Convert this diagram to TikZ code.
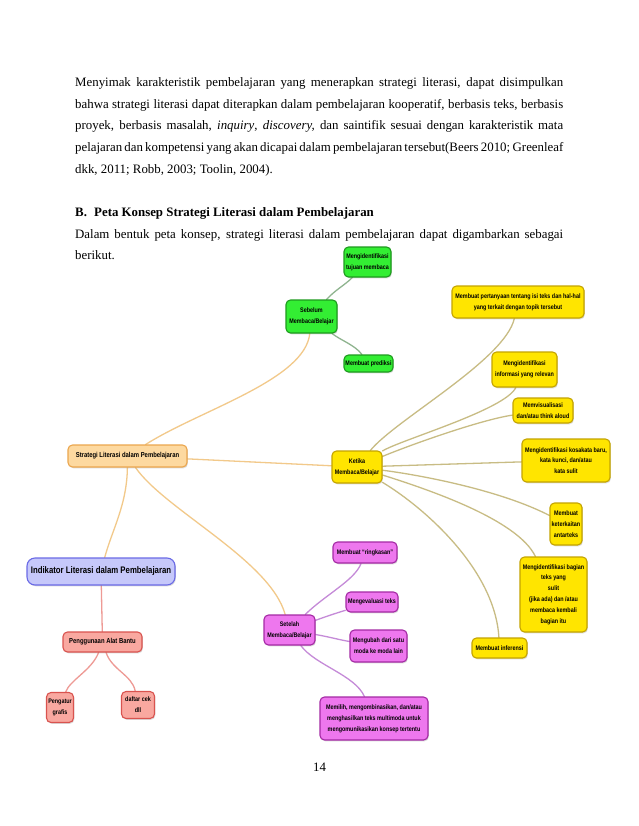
\documentclass[tikz,border=0pt]{standalone}
\usepackage{fontspec}
\setmainfont{Liberation Serif}
\newfontfamily\nodefont[FakeStretch=0.82]{Liberation Sans}
\usetikzlibrary{shadows,backgrounds}
\definecolor{gfill}{HTML}{33EE33}
\definecolor{gdraw}{HTML}{1E9A1E}
\definecolor{yfill}{HTML}{FFE500}
\definecolor{ydraw}{HTML}{C4A400}
\definecolor{ofill}{HTML}{FDD9A0}
\definecolor{odraw}{HTML}{EBA64E}
\definecolor{bfill}{HTML}{C6C8FA}
\definecolor{bdraw}{HTML}{6A6AE6}
\definecolor{rfill}{HTML}{F9A8A0}
\definecolor{rdraw}{HTML}{D9534F}
\definecolor{mfill}{HTML}{EE77EE}
\definecolor{mdraw}{HTML}{A42AA4}
\definecolor{oline}{HTML}{F2C98A}
\definecolor{gline}{HTML}{8FB48F}
\definecolor{yline}{HTML}{C8BC84}
\definecolor{rline}{HTML}{EE9A95}
\definecolor{mline}{HTML}{C58BD8}
\begin{document}
\begin{tikzpicture}[x=1pt,y=-1pt,
  body/.style={anchor=base west, inner sep=0pt, font=\fontsize{12.86}{21.7}\selectfont},
  mm/.style={rounded corners=4.5pt, line width=1.1pt, align=center, inner sep=0.5pt,
    font=\nodefont\bfseries\fontsize{6.6}{10.8}\selectfont,
    drop shadow={shadow xshift=0.9pt, shadow yshift=-1.3pt, opacity=0.28}},
  gbox/.style={mm, draw=gdraw, fill=gfill},
  ybox/.style={mm, draw=ydraw, fill=yfill},
  obox/.style={mm, draw=odraw, fill=ofill},
  bbox/.style={mm, draw=bdraw, fill=bfill},
  rbox/.style={mm, draw=rdraw, fill=rfill},
  mbox/.style={mm, draw=mdraw, fill=mfill},
  con/.style={line width=1.3pt, line cap=round},
]
% text
\node[body] (t1) at (75,86.5) {\makebox[488pt][s]{Menyimak karakteristik pembelajaran yang menerapkan strategi literasi, dapat disimpulkan}};
\node[body] (t2) at (75,108.2) {\makebox[488pt][s]{bahwa strategi literasi dapat diterapkan dalam pembelajaran kooperatif, berbasis teks, berbasis}};
\node[body] (t3) at (75,129.9) {\makebox[488pt][s]{proyek, berbasis masalah, \textit{inquiry}, \textit{discovery,} dan saintifik sesuai dengan karakteristik mata}};
\node[body] (t4) at (75,151.6) {\makebox[488pt][s]{pelajaran dan kompetensi yang akan dicapai dalam pembelajaran tersebut(Beers 2010; Greenleaf}};
\node[body] (t5) at (75,173.3) {dkk, 2011; Robb, 2003; Toolin, 2004).};
\node[body] (t6) at (75,216.2) {\textbf{\makebox[19pt][l]{B.}Peta Konsep Strategi Literasi dalam Pembelajaran}};
\node[body] (t7) at (75,238) {\makebox[488pt][s]{Dalam bentuk peta konsep, strategi literasi dalam pembelajaran dapat digambarkan sebagai}};
\node[body] (t8) at (75,259.7) {berikut.};
\node[anchor=base, inner sep=0pt, font=\fontsize{12.86}{15}\selectfont] (pg) at (319.5,771) {14};

% nodes
\node[gbox, minimum width=47pt, minimum height=30pt] (tujuan) at (367.5,262) {Mengidentifikasi\\tujuan membaca};
\node[gbox, minimum width=51pt, minimum height=33pt] (sebelum) at (311.5,316.5) {Sebelum\\Membaca/Belajar};
\node[gbox, minimum width=49pt, minimum height=17pt] (prediksi) at (368.5,363.5) {Membuat prediksi};

\node[ybox, minimum width=132pt, minimum height=32pt] (tanya) at (518,302) {Membuat pertanyaan tentang isi teks dan hal-hal\\yang terkait dengan topik tersebut};
\node[ybox, minimum width=65pt, minimum height=35pt] (info) at (524.5,369.5) {Mengidentifikasi\\informasi yang relevan};
\node[ybox, minimum width=60pt, minimum height=25pt] (visual) at (543,410.5) {Memvisualisasi\\dan/atau think aloud};
\node[ybox, minimum width=88pt, minimum height=43pt] (kosa) at (566,460.5) {Mengidentifikasi kosakata baru,\\kata kunci, dan/atau\\kata sulit};
\node[ybox, minimum width=32pt, minimum height=42pt] (kait) at (566,524) {Membuat\\keterkaitan\\antarteks};
\node[ybox, minimum width=67pt, minimum height=75pt] (bagian) at (553.5,594.5) {Mengidentifikasi bagian\\teks yang\\sulit\\(jika ada) dan /atau\\membaca kembali\\bagian itu};
\node[ybox, minimum width=55pt, minimum height=20pt] (infer) at (499.5,648) {Membuat inferensi};
\node[ybox, minimum width=50pt, minimum height=32pt] (ketika) at (357,467) {Ketika\\Membaca/Belajar};

\node[obox, minimum width=119pt, minimum height=22pt, font=\nodefont\bfseries\fontsize{7.2}{9}\selectfont] (strat) at (127.5,456) {Strategi Literasi dalam Pembelajaran};
\node[bbox, rounded corners=8pt, minimum width=148pt, minimum height=27pt, font=\nodefont\bfseries\fontsize{9.5}{11}\selectfont] (indik) at (101,571.5) {Indikator Literasi dalam Pembelajaran};
\node[rbox, minimum width=79pt, minimum height=20pt, font=\nodefont\bfseries\fontsize{7.2}{9}\selectfont] (peng) at (102.5,642) {Penggunaan Alat Bantu};
\node[rbox, minimum width=27pt, minimum height=30pt] (pengatur) at (60,707.5) {Pengatur\\grafis};
\node[rbox, minimum width=33pt, minimum height=27pt] (daftar) at (138,705) {daftar cek\\dll};

\node[mbox, minimum width=51pt, minimum height=30pt] (setelah) at (289.5,630) {Setelah\\Membaca/Belajar};
\node[mbox, minimum width=64pt, minimum height=21pt] (ringkas) at (365,552.5) {Membuat “ringkasan”};
\node[mbox, minimum width=52pt, minimum height=20pt] (evaluasi) at (372,602) {Mengevaluasi teks};
\node[mbox, minimum width=57pt, minimum height=32pt] (ubah) at (378.5,646) {Mengubah dari satu\\moda ke moda lain};
\node[mbox, minimum width=108pt, minimum height=43pt] (pilih) at (374,718.5) {Memilih, mengombinasikan, dan/atau\\menghasilkan teks multimoda untuk\\mengomunikasikan konsep tertentu};

\begin{scope}[on background layer]
\fill[white] (0,0) rectangle (638,826);
% orange
\draw[con, oline] (strat) .. controls (200,410) and (305,380) .. (sebelum);
\draw[con, oline] (strat) -- (ketika);
\draw[con, oline] (strat) .. controls (127,505) and (112,530) .. (indik);
\draw[con, oline] (strat) .. controls (165,510) and (270,560) .. (setelah);
% green
\draw[con, gline] (sebelum) .. controls (335,290) and (345,285) .. (tujuan);
\draw[con, gline] (sebelum) .. controls (340,340) and (355,345) .. (prediksi);
% yellow
\draw[con, yline] (ketika) .. controls (395,420) and (505,360) .. (tanya);
\draw[con, yline] (ketika) .. controls (400,440) and (505,410) .. (info);
\draw[con, yline] (ketika) .. controls (410,445) and (480,420) .. (visual);
\draw[con, yline] (ketika) -- (kosa);
\draw[con, yline] (ketika) .. controls (420,475) and (500,490) .. (kait);
\draw[con, yline] (ketika) .. controls (430,490) and (518,520) .. (bagian);
\draw[con, yline] (ketika) .. controls (425,508) and (495,570) .. (infer);
% magenta
\draw[con, mline] (setelah) .. controls (325,595) and (355,580) .. (ringkas);
\draw[con, mline] (setelah) .. controls (330,615) and (340,612) .. (evaluasi);
\draw[con, mline] (setelah) .. controls (330,637) and (340,640) .. (ubah);
\draw[con, mline] (setelah) .. controls (315,665) and (355,675) .. (pilih);
% red
\draw[con, rline] (indik) -- (peng);
\draw[con, rline] (peng) .. controls (92,670) and (70,680) .. (pengatur);
\draw[con, rline] (peng) .. controls (112,670) and (132,675) .. (daftar);
\end{scope}
\path[use as bounding box] (0,0) rectangle (638,826);
\end{tikzpicture}
\end{document}
